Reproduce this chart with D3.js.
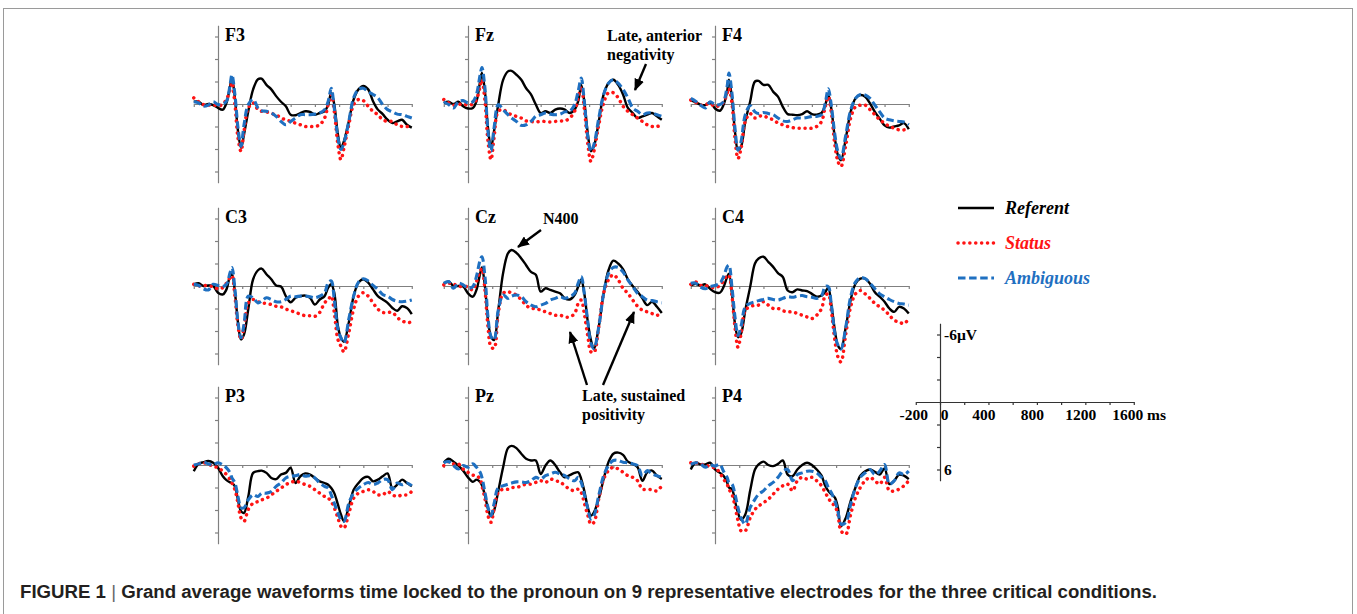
<!DOCTYPE html>
<html>
<head>
<meta charset="utf-8">
<script src="https://cdnjs.cloudflare.com/ajax/libs/d3/7.8.5/d3.min.js"></script>
<style>
body { margin: 0; background: #fff; }
#viz text { font-family: "Liberation Serif", "Times New Roman", serif; font-weight: bold; }
</style>
</head>
<body>
<div id="viz"></div>
<script>
// sample times (ms) shared by every waveform
let times_ms = [-200,-160,-120,-80,-40,0,40,70,100,115,140,165,190,215,250,290,330,360,400,440,480,520,560,600,640,680,720,760,800,840,880,910,935,960,990,1015,1040,1080,1120,1160,1200,1240,1280,1320,1360,1400,1440,1480,1520,1560,1600];

let electrodes = ["F3","Fz","F4","C3","Cz","C4","P3","Pz","P4"];
let conditions = ["Referent","Status","Ambiguous"];
let x_ticks_ms = [-200,0,200,400,600,800,1000,1200,1400,1600];
let y_ticks_uv = [-6,-4,-2,2,4,6];
let scale_x_labels = [-200,0,400,800,1200,1600];

// amplitudes in microvolts (negative plotted up)
let f3_ref = [-0.2,-0.2,0.1,0,0.1, 0.35,0.5,-0.1,-1.6,-2.3, -0.5,2.4,3.9,2.7,0.65, -1.3,-2.2,-2.25,-1.7,-1.3, -0.7,-0.2,0.2,0.95,1.0, 0.8,0.65,0.7,0.95,0.8, 0.65,0.05,-1.0,0.05,2.7, 3.9,3.3,1.55,-0.4,-1.3, -1.6,-1.3,-0.25,0.5,0.9, 1.4,1.7,1.55,1.4,1.85, 2.1];
let f3_sta = [-0.55,-0.2,0.05,0.1,0.05, 0.2,0,-0.4,-1.3,-1.9, 0.05,3.0,4.2,2.4,0.35, -0.1,0.5,0.65,0.7,0.85, 0.95,1.25,1.4,1.55,1.7, 1.85,2.0,2.0,2.0,1.85, 1.25,0.05,-0.85,0.65,3.6, 4.95,3.9,1.85,0.05,-0.4, -0.3,0.2,0.65,0.95,1.4, 1.55,1.55,1.85,2.0,2.0, 2.05];
let f3_amb = [-0.2,-0.1,0.2,0.1,-0.2, 0.05,0,-0.25,-1.7,-2.6, -0.8,2.1,3.75,1.85,0.05, -0.4,0.35,0.6,0.65,0.8, 1.1,1.55,1.85,1.55,1.25, 0.95,0.95,0.95,0.9,0.8, 0.5,-0.25,-1.4,0.35,3.0, 4.05,3.45,1.55,-0.55,-1.3, -1.4,-1.1,-0.85,-0.55,0.05, 0.5,0.7,0.9,0.95,1.1, 1.25];

let fz_ref = [-0.1,-0.2,0,-0.2,0.2, 0.4,0.35,-0.25,-2.0,-2.75, -1.1,2.1,3.9,2.4,0.05, -2.15,-2.9,-2.95,-2.6,-2.15, -1.4,-0.85,0.05,0.8,0.65, 0.8,0.5,0.4,0.5,0.8, 0.5,-0.25,-1.7,-0.25,2.7, 4.2,3.75,1.55,-0.85,-1.85, -2.15,-1.7,-0.85,0.35,0.8, 1.25,1.1,0.95,0.8,1.1, 1.4];
let fz_sta = [-0.4,-0.1,0.1,0.05,0, 0.1,0,-0.4,-1.55,-2.15, -0.25,3.3,4.95,3.0,0.65, 0.5,0.8,0.95,1.1,1.25, 1.5,1.55,1.6,1.55,1.55, 1.6,1.55,1.5,1.5,1.25, 0.65,-0.55,-1.55,0.35,3.6, 5.1,4.2,1.85,-0.1,-1.0, -1.0,-0.55,0.2,0.65,0.95, 1.25,1.55,1.85,2.0,2.0, 1.85];
let fz_amb = [-0.2,0.05,0.35,-0.2,-0.3, -0.1,-0.2,-0.85,-2.6,-3.25, -1.4,2.45,4.2,2.15,0.05, 0.5,0.95,1.25,1.55,1.9, 1.85,1.55,1.1,0.95,0.8, 0.9,0.95,0.9,0.7,0.65, 0.05,-1.15,-2.3,-0.25,3.0, 4.2,3.6,1.25,-0.85,-1.85, -2.15,-1.85,-1.3,-0.55,0.35, 0.65,0.95,0.8,0.8,0.95, 1.1];

let f4_ref = [-0.35,-0.15,0.05,0.1,-0.15, 0.4,0.6,0.1,-1.1,-2.15, -0.5,2.45,4.1,3.8,1.55, -0.2,-2.0,-2.05,-1.7,-1.7, -1.1,-0.65,0.25,0.9,0.95, 1.0,0.9,0.65,0.9,0.95, 0.8,0.1,-0.8,0.4,3.05, 4.55,5.0,3.05,0.7,-0.5, -0.8,-0.65,-0.05,0.7,1.3, 1.9,2.1,2.0,1.9,1.7, 2.25];
let f4_sta = [-0.35,-0.15,0.1,0.05,-0.05, 0.25,0.1,-0.15,-0.95,-1.4, -0.05,3.05,4.85,3.95,1.55, 0.85,1.25,1.1,1.05,1.25, 1.4,1.7,1.85,2.0,2.1, 2.15,2.15,2.15,2.15,2.0, 1.55,0.25,-0.65,0.7,3.65, 5.1,5.55,3.65,1.25,0.25, 0.1,0.1,0.5,0.95,1.4, 1.7,2.0,2.15,2.3,2.3, 2.15];
let f4_amb = [-0.5,-0.25,0.1,0.35,-0.2, 0.05,0.05,-0.2,-1.55,-2.75, -0.95,2.15,4.1,3.35,0.95, 0.15,0.7,0.85,0.75,0.85, 0.95,1.25,1.5,1.55,1.4, 1.25,1.25,1.2,1.1,1.1, 0.95,-0.05,-1.35,0.1,2.75, 4.25,4.85,2.75,0.55,-0.5, -0.85,-0.8,-0.5,0.1,0.7, 1.25,1.4,1.5,1.55,1.6, 1.85];

let c3_ref = [-0.15,-0.25,0,-0.05,0, 0.6,0.75,0.3,-0.9,-1.05, 0.6,3.25,4.75,4.3,2.05, -0.6,-1.4,-1.55,-1.05,-0.6, -0.05,0.05,0.9,1.45,1.05, 0.9,0.85,1.05,1.65,1.2, 0.9,0.15,-0.15,0.6,3.55, 4.6,4.95,3.25,0.9,-0.3, -0.6,-0.3,0.3,0.9,1.2, 1.5,1.95,2.2,1.8,1.95, 2.5];
let c3_sta = [-0.15,0,-0.05,0,0.05, 0.25,0.15,-0.25,-0.75,-0.9, 0.9,3.55,4.75,3.7,1.5, 1.2,1.4,1.5,1.55,1.65, 1.8,1.85,2.05,2.2,2.35, 2.5,2.65,2.65,2.7,2.35, 1.5,1.2,0.9,2.35,4.75, 5.35,5.85,4.15,2.05,0.9, 0.6,0.9,1.5,2.05,2.35, 2.35,2.35,2.8,3.1,3.25, 3.2];
let c3_amb = [-0.15,-0.05,0.25,0.35,-0.15, -0.05,0.05,-0.15,-1.2,-1.65, 0.3,3.25,4.6,3.4,0.9, 1.05,1.5,1.35,1.05,1.2, 1.4,1.4,1.2,0.9,0.95, 0.9,0.9,0.95,1.05,0.9, 0.6,-0.3,-0.45,1.2,3.85, 4.6,5.05,2.95,0.9,-0.35, -0.65,-0.45,-0.05,0.3,0.75, 0.9,1.2,1.35,1.4,1.35, 1.25];

let cz_ref = [-0.2,-0.4,0,0,0.05, 0.65,0.95,0.35,-1.1,-1.65, 0.05,3.0,4.5,4.8,2.15, -1.15,-2.9,-3.2,-2.95,-2.45, -1.85,-1.25,-1.0,0.5,0.2, 0.35,0.5,0.65,1.1,1.2, 0.8,0.05,-0.55,0.65,3.25, 4.8,5.6,3.6,0.65,-1.4, -2.25,-2.0,-1.5,-0.6,0, 0.5,1.1,1.7,1.4,1.85, 2.4];
let cz_sta = [-0.1,-0.25,-0.2,0.05,0, 0.1,0.35,-0.4,-1.3,-1.55, 0.35,3.6,5.4,5.55,2.4, 0.65,0.5,0.65,0.8,1.25, 1.7,2.0,2.0,2.15,2.3, 2.45,2.6,2.6,2.75,2.75, 2.45,1.55,1.25,2.45,4.5, 5.85,5.9,3.6,0.65,-0.55, -1.0,-0.55,0.2,0.65,1.25, 1.8,2.15,2.3,2.45,2.6, 2.45];
let cz_amb = [-0.25,-0.4,0.2,-0.25,-0.1, 0.2,0.05,-0.85,-2.3,-2.6, -0.85,2.75,4.5,4.8,2.15, 0.8,1.1,0.9,0.8,0.95, 1.4,1.7,1.85,1.7,1.55, 1.25,1.1,0.95,1.1,0.95, 0.65,-0.25,-0.85,0.65,3.25, 5.1,5.55,3.6,0.65,-1.1, -1.65,-1.65,-1.25,-0.55,0.05, 0.65,0.95,1.25,1.3,1.4, 1.5];

let c4_ref = [-0.05,-0.2,-0.05,-0.15,0.25, 0.55,0.6,0.1,-0.8,-1.1, 0.7,3.35,4.55,4.25,2.15, 0.1,-2.0,-2.45,-2.6,-2.15, -1.7,-1.15,-0.8,0.4,0.55, 0.3,0.4,0.45,0.7,0.95, 0.85,0.55,0.15,1.6,3.95, 5.3,5.6,3.65,1.25,-0.2, -0.65,-0.65,-0.2,0.55,0.95, 1.4,2.0,2.3,1.85,2.0, 2.45];
let c4_sta = [-0.15,-0.35,-0.05,-0.05,0.1, 0.15,-0.05,-0.45,-0.95,-0.95, 0.85,3.65,5.45,4.25,2.15, 1.85,1.7,1.7,1.4,1.7, 2.0,2.0,2.2,2.3,2.3, 2.45,2.6,2.75,2.9,2.6, 2.0,0.85,0.7,2.15,4.85, 6.3,6.75,4.25,1.85,0.7, 0.4,0.7,1.1,1.55,1.85, 2.15,2.6,3.05,3.2,3.35, 2.9];
let c4_amb = [-0.25,-0.25,0.1,0.25,0.05, -0.05,-0.25,-0.8,-1.7,-1.85, 0.1,2.75,4.4,3.6,1.85, 1.55,1.4,1.3,1.2,1.1, 1.2,1.25,1.1,0.95,1.0, 0.9,0.85,0.95,1.0,1.1, 0.85,0.05,0.05,1.6,4.25, 5.25,5.6,3.65,0.95,-0.35, -0.75,-0.65,-0.25,0.25,0.7, 0.95,1.2,1.4,1.55,1.6, 1.7];

let p3_ref = [0.55,-0.1,-0.25,-0.35,-0.2, 0.25,1.0,1.35,1.55,1.6, 1.9,3.1,4.1,4.25,2.8, 0.7,0.55,0.5,0.7,1.15, 1.25,0.85,0.7,0.25,1.6, 1.0,0.75,0.85,1.15,1.45, 1.6,1.75,2.05,2.5,3.5, 4.4,5.0,3.7,2.2,1.6, 1.15,1.05,1.45,1.3,1.0, 0.75,2.05,1.75,1.3,1.6, 1.9];
let p3_sta = [0.1,-0.1,-0.2,-0.05,0.1, 0.25,0.55,0.85,1.3,1.6, 2.2,3.4,4.7,5.0,3.95, 3.4,3.25,3.1,2.95,2.65, 2.35,2.05,1.75,1.55,1.45, 1.55,1.75,1.9,2.2,2.5, 2.8,2.95,3.25,3.8,4.7, 5.45,5.6,4.3,2.95,2.5, 2.35,2.2,2.35,2.65,2.65, 2.35,2.65,2.8,2.65,2.65, 2.35];
let p3_amb = [0,-0.1,-0.25,-0.1,0, -0.2,0,0.25,0.7,1.15, 1.6,2.8,3.8,3.8,3.1, 2.65,2.8,2.5,2.5,2.35, 1.9,1.6,1.15,1.0,0.95, 0.85,1.0,0.95,1.15,1.6, 1.9,2.05,2.65,3.4,4.25, 4.85,5.0,3.4,2.5,2.05, 1.75,1.55,1.75,1.6,1.3, 1.3,2.2,1.6,1.75,1.6, 1.85];

let pz_ref = [-0.2,-0.55,-0.3,0.05,0.5, 1.1,1.5,1.3,1.5,1.8, 2.7,3.9,4.55,4.05,2.3, 0.2,-1.5,-1.7,-1.5,-1.0, -0.55,-0.4,-0.4,0.8,0.05, -0.4,0,0.65,1.1,0.9, 0.7,0.65,1.25,2.3,3.8, 4.5,4.2,3.0,1.25,-0.25, -1.0,-1.1,-0.9,-0.3,-0.1, 0.2,1.4,0.65,0.5,0.95, 1.25];
let pz_sta = [0.05,-0.3,-0.1,-0.1,0.35, 0.65,0.9,0.95,1.25,1.85, 3.0,4.5,5.1,3.9,2.45, 2.15,2.15,2.0,2.0,1.85, 1.7,1.7,1.55,1.4,1.55, 1.25,1.4,1.5,1.85,2.15, 2.3,2.15,2.45,3.35,4.5, 5.25,5.1,3.0,1.25,0.5, 0.2,0.35,0.65,0.95,1.1, 1.4,2.15,2.15,2.2,2.3, 1.85];
let pz_amb = [-0.2,-0.3,0.05,0.35,0.05, 0.2,-0.1,0.2,0.65,1.1, 2.45,3.75,4.5,3.45,2.0, 1.85,1.7,1.6,1.5,1.5, 1.55,1.4,1.1,1.25,0.95, 0.8,0.65,0.8,0.95,1.25, 1.4,1.1,1.55,2.6,3.9, 4.8,4.5,2.7,0.95,0.05, -0.4,-0.4,-0.25,-0.2,-0.1, 0.05,0.95,0.5,0.8,0.95, 1.1];

let p4_ref = [0.4,-0.2,-0.05,-0.05,-0.2, 0.4,0.7,0.95,1.55,2.0, 2.15,3.2,4.25,4.85,4.4, 2.3,0.4,-0.05,-0.3,0, 0.1,-0.1,-0.4,0.85,1.0, 0.4,0,-0.2,0,0.4, 0.95,1.85,2.3,2.6,2.9, 3.8,5.45,4.7,3.2,2.0, 0.95,0.55,0.4,0.6,0.85, 0.3,1.7,1.4,0.85,0.95, 1.25];
let p4_sta = [-0.2,-0.2,-0.05,-0.05,0.2, 0.25,0.7,1.25,1.7,2.15, 2.6,3.65,4.95,5.85,5.85, 4.7,3.95,3.65,3.35,3.05, 2.6,2.15,1.85,1.7,2.3, 1.4,1.1,1.25,1.1,1.4, 1.85,2.45,2.9,3.35,3.65, 4.4,5.85,6.15,4.4,2.9, 2.0,1.4,1.1,1.4,1.7, 1.1,2.3,2.3,2.15,1.85, 1.4];
let p4_amb = [-0.05,-0.2,-0.1,0.2,0, 0.1,-0.05,0.55,1.1,1.55, 1.7,2.6,3.8,4.7,5.25, 3.8,3.05,2.6,2.3,1.85, 1.55,1.1,0.55,0.4,1.4, 0.85,0.7,0.55,0.55,0.7, 1.1,1.4,2.0,2.45,3.2, 4.1,5.25,5.1,3.5,2.0, 1.1,0.7,0.4,0.85,0.55, -0.05,1.7,1.4,0.7,0.85, 0.55];

// table built from the arrays above, in legend order
let waves = {
    "F3": [f3_ref, f3_sta, f3_amb], "Fz": [fz_ref, fz_sta, fz_amb], "F4": [f4_ref, f4_sta, f4_amb],
    "C3": [c3_ref, c3_sta, c3_amb], "Cz": [cz_ref, cz_sta, cz_amb], "C4": [c4_ref, c4_sta, c4_amb],
    "P3": [p3_ref, p3_sta, p3_amb], "Pz": [pz_ref, pz_sta, pz_amb], "P4": [p4_ref, p4_sta, p4_amb]
};

let cond_colour = ["#000000", "#ff1414", "#1f70c1"];
let cond_dash = [null, "0.1 5.8", "7.5 3.6"];
let cond_width = [2.4, 3.5, 3.1];

let width = 1357, height = 614;
let ms_px = 218/1800;       // horizontal size of one ms
let uv_px = 11.25;          // vertical size of one microvolt
let col_x = [218, 468, 715];
let row_y = [104, 286, 465];
let axis_colour = "#808080";

let svg = d3.select("#viz").append("svg")
    .attr("width", width)
    .attr("height", height);

svg.append("rect")
    .attr("x", 3.5).attr("y", 8.5)
    .attr("width", 1349).attr("height", 640)
    .attr("fill", "none")
    .attr("stroke", "#9a9a9a");

let defs = svg.append("defs");
defs.append("marker")
    .attr("id", "arrow")
    .attr("viewBox", "0 0 12 10")
    .attr("refX", 11).attr("refY", 5)
    .attr("markerWidth", 12).attr("markerHeight", 10)
    .attr("markerUnits", "userSpaceOnUse")
    .attr("orient", "auto")
    .append("path")
    .attr("d", "M0,0 L12,5 L0,10 Z")
    .attr("fill", "#000");

function make_scales(x0, y0){
    let x = d3.scaleLinear().domain([-200, 1600]).range([x0 - 200*ms_px, x0 + 1600*ms_px]);
    let y = d3.scaleLinear().domain([-7, 7]).range([y0 - 7*uv_px, y0 + 7*uv_px]);
    return {x: x, y: y};
}

function draw_axes(g, sc, x0, y0, colour){
    let ax = g.append("g")
        .attr("transform", "translate(0," + y0 + ")")
        .call(d3.axisBottom(sc.x).tickValues(x_ticks_ms).tickSize(3).tickSizeOuter(0).tickFormat(""));
    let ay = g.append("g")
        .attr("transform", "translate(" + x0 + ",0)")
        .call(d3.axisLeft(sc.y).tickValues(y_ticks_uv).tickSize(3).tickSizeOuter(0).tickFormat(""));
    [ax, ay].forEach(function(a){
        a.selectAll("path, line").attr("stroke", colour).attr("stroke-width", 1.2);
    });
}

function draw_panel(name, idx){
    let x0 = col_x[idx % 3];
    let y0 = row_y[Math.floor(idx / 3)];
    let sc = make_scales(x0, y0);
    let g = svg.append("g").attr("class", "panel");

    draw_axes(g, sc, x0, y0, axis_colour);

    let line = d3.line()
        .x(function(d, i){ return sc.x(times_ms[i]); })
        .y(function(d){ return sc.y(d); })
        .curve(d3.curveCatmullRom.alpha(0.5));

    waves[name].forEach(function(vals, c){
        g.append("path")
            .attr("d", line(vals))
            .attr("fill", "none")
            .attr("stroke", cond_colour[c])
            .attr("stroke-width", cond_width[c])
            .attr("stroke-linecap", c === 1 ? "round" : "butt")
            .attr("stroke-linejoin", "round")
            .attr("stroke-dasharray", cond_dash[c]);
    });

    g.append("text")
        .attr("x", x0 + 7)
        .attr("y", y0 - 63)
        .attr("font-size", 18)
        .text(name);
}

electrodes.forEach(draw_panel);

// legend
let legend = svg.append("g");
conditions.forEach(function(c, i){
    let ly = 208 + i*35;
    legend.append("line")
        .attr("x1", 958).attr("x2", 994)
        .attr("y1", ly).attr("y2", ly)
        .attr("stroke", cond_colour[i])
        .attr("stroke-width", cond_width[i])
        .attr("stroke-linecap", i === 1 ? "round" : "butt")
        .attr("stroke-dasharray", cond_dash[i]);
    legend.append("text")
        .attr("x", 1005).attr("y", ly + 6)
        .attr("font-size", 18)
        .attr("font-style", "italic")
        .attr("fill", cond_colour[i])
        .text(c);
});

// calibration axes
let cal_x0 = 940, cal_y0 = 402;
let cal = make_scales(cal_x0, cal_y0);
let cal_g = svg.append("g");
draw_axes(cal_g, cal, cal_x0, cal_y0, "#333");
cal_g.selectAll(".lbl")
    .data(scale_x_labels)
    .enter().append("text")
    .attr("x", function(d){ return cal.x(d) + (d === 0 ? 4.5 : (d === -200 ? -2 : (d === 1600 ? -6 : -4.5))); })
    .attr("y", cal_y0 + 18)
    .attr("text-anchor", "middle")
    .attr("font-size", 15.5)
    .text(function(d){ return d; });
cal_g.append("text").attr("x", 1147).attr("y", cal_y0 + 18).attr("font-size", 15.5).text("ms");
cal_g.append("text").attr("x", cal_x0 + 4).attr("y", cal.y(-6) + 5).attr("font-size", 15.5).text("-6µV");
cal_g.append("text").attr("x", cal_x0 + 4).attr("y", cal.y(6) + 5).attr("font-size", 15.5).text("6");

// annotations
function add_note(lines, x, y){
    lines.forEach(function(t, i){
        svg.append("text").attr("x", x).attr("y", y + i*19).attr("font-size", 16).text(t);
    });
}
function add_arrow(x1, y1, x2, y2){
    svg.append("line")
        .attr("x1", x1).attr("y1", y1).attr("x2", x2).attr("y2", y2)
        .attr("stroke", "#000").attr("stroke-width", 2.4)
        .attr("marker-end", "url(#arrow)");
}
add_note(["Late, anterior", "negativity"], 607, 41);
add_arrow(646, 64, 635, 90);
add_note(["N400"], 543, 224);
add_arrow(541, 230, 518, 247);
add_note(["Late, sustained", "positivity"], 582, 401);
add_arrow(587, 385, 570, 332);
add_arrow(603, 385, 634, 312);

// caption
let cap = svg.append("text")
    .attr("x", 20).attr("y", 598)
    .attr("font-size", 17.5)
    .attr("textLength", 1137)
    .attr("lengthAdjust", "spacingAndGlyphs")
    .style("font-family", "'Liberation Sans Narrow', 'Liberation Sans', Arial, sans-serif")
    .attr("fill", "#231f20");
cap.append("tspan").text("FIGURE 1 ");
cap.append("tspan").style("font-weight", "normal").attr("fill", "#666").text("|");
cap.append("tspan").text(" Grand average waveforms time locked to the pronoun on 9 representative electrodes for the three critical conditions.");
</script>
</body>
</html>
